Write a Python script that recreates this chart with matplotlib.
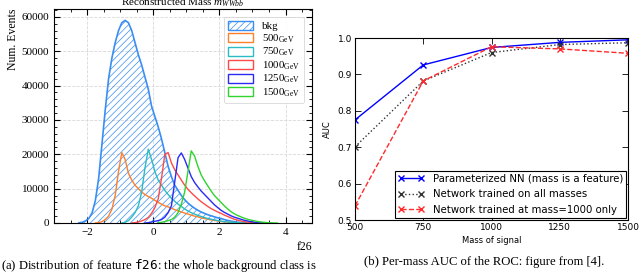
import matplotlib
matplotlib.use("Agg")
import matplotlib.pyplot as plt
import numpy as np
from matplotlib.patches import Patch
from matplotlib.ticker import MultipleLocator, AutoMinorLocator

# --- left panel: binned distributions of f26 (bin width 0.1) ---
bin_width = 0.1

bkg_start = -2.3
bkg_counts = [50, 200, 600, 1300, 2900, 6500, 13000, 23000, 33000, 42000,
              48000, 52500, 56000, 58300, 59000, 58300, 56000, 52500, 49000, 46000,
              42500, 39000, 34000, 31000, 28000, 24500, 20500, 16500, 13500, 11000,
              9500, 8000, 6800, 5800, 5000, 4300, 3700, 3200, 2800, 2400,
              2100, 1800, 1500, 1300, 1000, 750, 550, 400, 250, 150,
              80, 40, 20, 0]

sig500_start = -1.8
sig500_counts = [0, 100, 400, 1000, 2000, 4000, 8000, 15000, 20500, 18500,
                 14500, 12500, 11000, 10000, 9000, 8300, 7700, 7200, 6600, 6000,
                 5500, 5000, 4700, 4300, 3900, 3500, 3200, 2900, 2600, 2300,
                 2000, 1800, 1500, 1300, 1100, 900, 750, 600, 450, 350,
                 250, 180, 120, 80, 50, 30, 10, 0]

sig750_start = -1.0
sig750_counts = [0, 200, 700, 1700, 3000, 5000, 9000, 16000, 21500, 18500,
                 15000, 12500, 11000, 9500, 8300, 7200, 6300, 5500, 4800, 4100,
                 3500, 3000, 2600, 2200, 1900, 1600, 1300, 1100, 900, 700,
                 550, 400, 300, 200, 150, 100, 60, 30, 10, 0]

sig1000_start = -0.7
sig1000_counts = [0, 100, 300, 600, 1000, 1600, 2800, 4500, 7000, 13000,
                  20000, 20500, 17500, 15500, 14000, 12500, 11000, 9800, 8800, 7900,
                  7000, 6200, 5500, 4800, 4200, 3700, 3200, 2800, 2300, 1900,
                  1500, 1100, 850, 600, 400, 250, 150, 80, 40, 10, 0]

sig1250_start = -0.3
sig1250_counts = [0, 100, 300, 500, 700, 1000, 1700, 3000, 5000, 12000,
                  19000, 20400, 18500, 16000, 13500, 11800, 10500, 9300, 8300, 7300,
                  6300, 5300, 4500, 3700, 3100, 2600, 2100, 1700, 1400, 1100,
                  800, 600, 400, 250, 150, 80, 40, 10, 0]

sig1500_start = 0.1
sig1500_counts = [100, 200, 400, 700, 1000, 1700, 3000, 5500, 9000, 15000,
                  21000, 19500, 16500, 14000, 12300, 10800, 9300, 8000, 7000, 6000,
                  5000, 4100, 3300, 2700, 2200, 1800, 1400, 1100, 850, 650,
                  450, 300, 200, 100, 50, 20, 0]

signal_labels = [r"500$_{\rm GeV}$", r"750$_{\rm GeV}$", r"1000$_{\rm GeV}$",
                 r"1250$_{\rm GeV}$", r"1500$_{\rm GeV}$"]
signal_colors = ["#ff7f2a", "#2bbcc4", "#ff4a4a", "#2a2af5", "#2fd42f"]

# --- right panel: AUC per mass ---
masses = [500, 750, 1000, 1250, 1500]
auc_param = [0.775, 0.926, 0.974, 0.988, 0.995]
auc_all = [0.701, 0.882, 0.960, 0.982, 0.987]
auc_1000 = [0.539, 0.882, 0.976, 0.970, 0.958]

plt.rcParams["mathtext.fontset"] = "custom"
plt.rcParams["mathtext.rm"] = "Liberation Serif"
plt.rcParams["mathtext.it"] = "Liberation Serif:italic"
plt.rcParams["mathtext.tt"] = "DejaVu Sans Mono"
plt.rcParams["hatch.linewidth"] = 0.5

fig = plt.figure(figsize=(6.4, 2.74), dpi=100)
serif = "Liberation Serif"
bkg_color = "#3a8ef2"


def centers_of(start, counts):
    return start + bin_width * (np.arange(len(counts)) + 0.5)


ax1 = fig.add_axes([54 / 640, 1 - 223 / 274, 258 / 640, 214 / 274])
xb = centers_of(bkg_start, bkg_counts)
ax1.fill_between(xb, bkg_counts, 0, facecolor="none", edgecolor=bkg_color,
                 hatch="/////", linewidth=0)
ax1.plot(xb, bkg_counts, color=bkg_color, linewidth=1.2)

sig_series = [(sig500_start, sig500_counts), (sig750_start, sig750_counts),
              (sig1000_start, sig1000_counts), (sig1250_start, sig1250_counts),
              (sig1500_start, sig1500_counts)]
for (start, counts), col in zip(sig_series, signal_colors):
    ax1.plot(centers_of(start, counts), counts, color=col, linewidth=1.0)

ax1.set_xlim(-3.0, 4.8)
ax1.set_ylim(0, 62300)
ax1.xaxis.set_major_locator(MultipleLocator(2))
ax1.xaxis.set_minor_locator(MultipleLocator(0.5))
ax1.yaxis.set_major_locator(MultipleLocator(10000))
ax1.yaxis.set_minor_locator(AutoMinorLocator(5))
ax1.tick_params(which="both", direction="in", top=True, right=True, labelsize=8)
ax1.tick_params(which="major", length=4, width=0.8)
ax1.tick_params(which="minor", length=2, width=0.6)
for lbl in ax1.get_xticklabels() + ax1.get_yticklabels():
    lbl.set_fontfamily(serif)
ax1.grid(True, which="major", color="#d8d8d8", linestyle="--", linewidth=0.6)
ax1.set_axisbelow(True)
ax1.set_xlabel("f26", loc="right", fontsize=8.5, family=serif, labelpad=3)
ax1.set_ylabel("Num. Events", loc="top", fontsize=8.5, family=serif, labelpad=2)
ax1.set_title(r"Reconstructed Mass $m_{WWbb}$", fontsize=8, family=serif, pad=1)

handles = [Patch(facecolor="none", edgecolor=bkg_color, hatch="/////",
                 linewidth=1.0, label="bkg")]
for lab, col in zip(signal_labels, signal_colors):
    handles.append(Patch(facecolor="none", edgecolor=col, linewidth=1.0, label=lab))
leg1 = ax1.legend(handles=handles, loc="upper right",
                  prop={"family": serif, "size": 7.8},
                  handlelength=2.3, handleheight=0.9, labelspacing=0.1,
                  borderpad=0.4, handletextpad=0.8, fancybox=True,
                  framealpha=0.9, borderaxespad=0.7)
leg1.get_frame().set_linewidth(0.5)

# right panel
ax2 = fig.add_axes([355 / 640, 1 - 220 / 274, 273 / 640, 182 / 274])
ax2.plot(masses, auc_param, color="blue", linestyle="-", marker="x",
         markersize=5, linewidth=1.0, label="Parameterized NN (mass is a feature)")
ax2.plot(masses, auc_all, color="#333333", linestyle=":", marker="x",
         markersize=5, linewidth=1.0, label="Network trained on all masses")
ax2.plot(masses, auc_1000, color="#ff2a2a", linestyle="--", marker="x",
         markersize=5, linewidth=1.0, label="Network trained at mass=1000 only")
ax2.set_xlim(500, 1500)
ax2.set_ylim(0.5, 1.0)
ax2.set_xticks(masses)
ax2.set_yticks([0.5, 0.6, 0.7, 0.8, 0.9, 1.0])
ax2.tick_params(direction="in", top=True, right=True, labelsize=6.5, length=4,
                width=0.6, pad=2)
ax2.set_xlabel("Mass of signal", fontsize=6, labelpad=3)
ax2.set_ylabel("AUC", fontsize=6, labelpad=4)
for s in ax2.spines.values():
    s.set_linewidth(0.8)
leg2 = ax2.legend(loc="lower right", fontsize=7.3, numpoints=2, fancybox=False,
                  framealpha=1.0, edgecolor="black", borderpad=0.3,
                  labelspacing=0.55, handlelength=2.6, handletextpad=0.8,
                  borderaxespad=0.2)
leg2.get_frame().set_linewidth(0.8)

# captions
fig.text(0.002, 1 - 265 / 274,
         r"(a) Distribution of feature $\mathtt{f26}$: the whole background class is",
         fontsize=9.1, family=serif, va="center", ha="left")
fig.text(484 / 640, 1 - 262 / 274, "(b) Per-mass AUC of the ROC: figure from [4].",
         fontsize=9.1, family=serif, va="center", ha="center")

fig.savefig("out.png", dpi=100)
